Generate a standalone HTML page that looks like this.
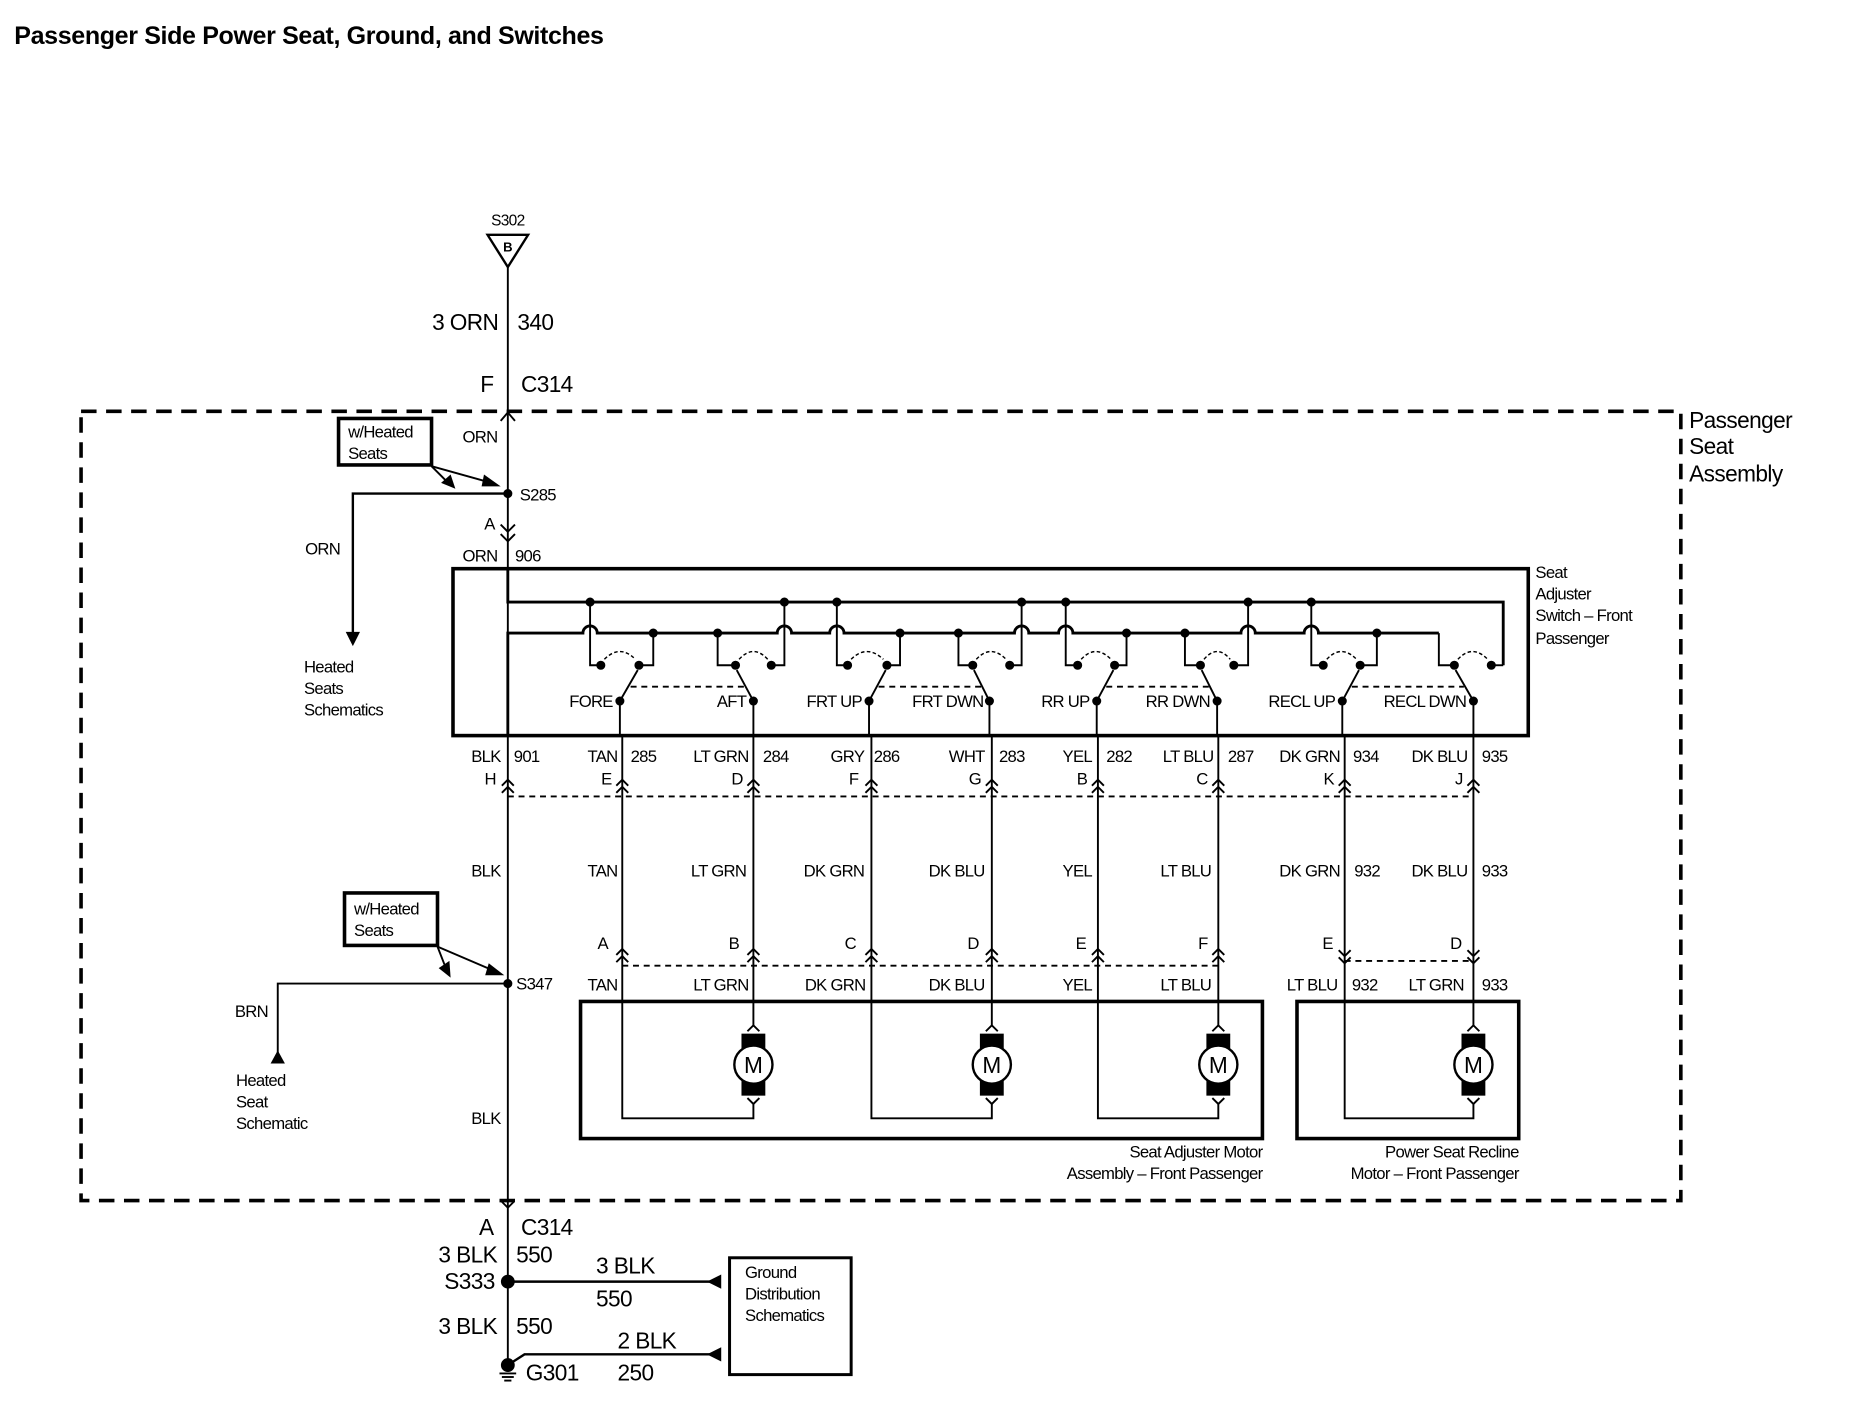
<!DOCTYPE html>
<html><head><meta charset="utf-8"><style>
html,body{margin:0;padding:0;background:#fff;}
svg{display:block;}
text{font-family:"Liberation Sans",Arial,sans-serif;fill:#000;}
.s{font-size:14px;letter-spacing:-0.6px;}
.b{font-size:19px;letter-spacing:-0.5px;}
.r{text-anchor:end;}
</style></head><body>
<svg width="1868" height="1408" viewBox="0 0 1567 1181" preserveAspectRatio="none" xmlns="http://www.w3.org/2000/svg">
<g fill="none" stroke="#000" stroke-width="1.6">
<text x="12" y="37" style="font-size:21px;font-weight:bold;letter-spacing:-0.3px" stroke="none">Passenger Side Power Seat, Ground, and Switches</text>

<!-- S302 -->
<text x="426" y="189" class="s" text-anchor="middle" stroke="none" style="font-size:13px">S302</text>
<polygon points="409,197 443,197 426,224" stroke-width="2"/>
<text x="426" y="211" text-anchor="middle" stroke="none" style="font-size:11px;font-weight:bold">B</text>
<line x1="426" y1="224" x2="426" y2="1145"/>
<text x="418" y="277" class="b r" stroke="none">3 ORN</text>
<text x="434" y="277" class="b" stroke="none">340</text>
<text x="414" y="329" class="b r" stroke="none">F</text>
<text x="437" y="329" class="b" stroke="none">C314</text>
<polyline points="420,353 426,346 432,353"/>

<!-- dashed assembly -->
<rect x="68" y="345" width="1342" height="662" stroke-width="3" stroke-dasharray="13,8"/>
<text x="1417" y="359" class="b" stroke="none">Passenger</text>
<text x="1417" y="381" class="b" stroke="none">Seat</text>
<text x="1417" y="404" class="b" stroke="none">Assembly</text>

<!-- S285 -->
<text x="388" y="371" class="s" stroke="none">ORN</text>
<rect x="284" y="351" width="78" height="39" stroke-width="3"/>
<text x="292" y="367" class="s" stroke="none">w/Heated</text>
<text x="292" y="385" class="s" stroke="none">Seats</text>
<line x1="362" y1="391" x2="412" y2="405"/>
<polygon points="420,408 406,398 404,408" fill="#000" stroke="none"/>
<line x1="362" y1="391" x2="375" y2="404"/>
<polygon points="382,410 370,405 378,398" fill="#000" stroke="none"/>
<circle cx="426" cy="414" r="3" fill="#000"/>
<text x="436" y="420" class="s" stroke="none">S285</text>
<polyline points="426,414 296,414 296,532" stroke-width="2"/>
<polygon points="290,530 302,530 296,542" fill="#000" stroke="none"/>
<text x="256" y="465" class="s" stroke="none">ORN</text>
<text x="255" y="564" class="s" stroke="none">Heated</text>
<text x="255" y="582" class="s" stroke="none">Seats</text>
<text x="255" y="600" class="s" stroke="none">Schematics</text>
<text x="415" y="444" class="s r" stroke="none">A</text>
<polyline points="420,440 426,446 432,440"/>
<polyline points="420,448 426,454 432,448"/>
<text x="388" y="471" class="s" stroke="none">ORN</text>
<text x="432" y="471" class="s" stroke="none">906</text>

<!-- switch box -->
<rect x="380" y="477" width="902" height="140" stroke-width="3"/>
<text x="1288" y="485" class="s" stroke="none">Seat</text>
<text x="1288" y="503" class="s" stroke="none">Adjuster</text>
<text x="1288" y="521" class="s" stroke="none">Switch – Front</text>
<text x="1288" y="540" class="s" stroke="none">Passenger</text>
<polyline points="426,477 426,505 1261,505 1261,558" stroke-width="2.4"/>
<path d="M426 617 V531 H489 a6 6 0 0 1 12 0 H652 a6 6 0 0 1 12 0 H696 a6 6 0 0 1 12 0 H851 a6 6 0 0 1 12 0 H888 a6 6 0 0 1 12 0 H1041 a6 6 0 0 1 12 0 H1094 a6 6 0 0 1 12 0 H1207" stroke-width="2.4"/>
<g fill="#000">
<circle cx="495" cy="505" r="3"/><circle cx="658" cy="505" r="3"/><circle cx="702" cy="505" r="3"/><circle cx="857" cy="505" r="3"/><circle cx="894" cy="505" r="3"/><circle cx="1047" cy="505" r="3"/><circle cx="1100" cy="505" r="3"/>
<circle cx="548" cy="531" r="3"/><circle cx="602" cy="531" r="3"/><circle cx="755" cy="531" r="3"/><circle cx="804" cy="531" r="3"/><circle cx="945" cy="531" r="3"/><circle cx="994" cy="531" r="3"/><circle cx="1155" cy="531" r="3"/>
</g>
<polyline points="495,505 495,558 504,558"/>
<polyline points="548,531 548,558 536,558"/>
<polyline points="602,531 602,558 617,558"/>
<polyline points="658,505 658,558 647,558"/>
<polyline points="702,505 702,558 711,558"/>
<polyline points="755,531 755,558 744,558"/>
<polyline points="804,531 804,558 816,558"/>
<polyline points="857,505 857,558 847,558"/>
<polyline points="894,505 894,558 904,558"/>
<polyline points="945,531 945,558 935,558"/>
<polyline points="994,531 994,558 1007,558"/>
<polyline points="1047,505 1047,558 1035,558"/>
<polyline points="1100,505 1100,558 1110,558"/>
<polyline points="1155,531 1155,558 1141,558"/>
<polyline points="1207,531 1207,558 1220,558"/>
<line x1="1261" y1="558" x2="1251" y2="558"/>
<g fill="#000">
<circle cx="504" cy="558" r="3"/><circle cx="536" cy="558" r="3"/><circle cx="617" cy="558" r="3"/><circle cx="647" cy="558" r="3"/><circle cx="711" cy="558" r="3"/><circle cx="744" cy="558" r="3"/><circle cx="816" cy="558" r="3"/><circle cx="847" cy="558" r="3"/><circle cx="904" cy="558" r="3"/><circle cx="935" cy="558" r="3"/><circle cx="1007" cy="558" r="3"/><circle cx="1035" cy="558" r="3"/><circle cx="1110" cy="558" r="3"/><circle cx="1141" cy="558" r="3"/><circle cx="1220" cy="558" r="3"/><circle cx="1251" cy="558" r="3"/>
<circle cx="520" cy="588" r="3"/><circle cx="632" cy="588" r="3"/><circle cx="729" cy="588" r="3"/><circle cx="830" cy="588" r="3"/><circle cx="920" cy="588" r="3"/><circle cx="1021" cy="588" r="3"/><circle cx="1126" cy="588" r="3"/><circle cx="1236" cy="588" r="3"/>
</g>
<g stroke-dasharray="3,2" stroke-width="1.2">
<path d="M507 553 Q520 540 533 553"/><path d="M620 553 Q632 540 644 553"/><path d="M714 553 Q727 540 741 553"/><path d="M819 553 Q831 540 844 553"/><path d="M907 553 Q919 540 932 553"/><path d="M1010 553 Q1021 540 1032 553"/><path d="M1113 553 Q1125 540 1138 553"/><path d="M1223 553 Q1235 540 1248 553"/>
</g>
<g stroke-dasharray="5,4">
<line x1="529" y1="576" x2="624" y2="576"/><line x1="737" y1="576" x2="823" y2="576"/><line x1="928" y1="576" x2="1014" y2="576"/><line x1="1134" y1="576" x2="1228" y2="576"/>
</g>
<line x1="520" y1="588" x2="535" y2="562"/><line x1="632" y1="588" x2="618" y2="562"/><line x1="729" y1="588" x2="743" y2="562"/><line x1="830" y1="588" x2="817" y2="562"/><line x1="920" y1="588" x2="934" y2="562"/><line x1="1021" y1="588" x2="1008" y2="562"/><line x1="1126" y1="588" x2="1140" y2="562"/><line x1="1236" y1="588" x2="1221" y2="562"/>
<text x="514" y="593" class="s r" stroke="none">FORE</text>
<text x="626" y="593" class="s r" stroke="none">AFT</text>
<text x="723" y="593" class="s r" stroke="none">FRT UP</text>
<text x="825" y="593" class="s r" stroke="none">FRT DWN</text>
<text x="914" y="593" class="s r" stroke="none">RR UP</text>
<text x="1015" y="593" class="s r" stroke="none">RR DWN</text>
<text x="1120" y="593" class="s r" stroke="none">RECL UP</text>
<text x="1230" y="593" class="s r" stroke="none">RECL DWN</text>

<polyline points="520,588 520,617 522,617 522,938 632,938 632,925"/>
<line x1="632" y1="588" x2="632" y2="860"/>
<polyline points="729,588 729,617 731,617 731,938 832,938 832,925"/>
<polyline points="830,588 830,617 832,617 832,860"/>
<polyline points="920,588 920,617 921,617 921,938 1022,938 1022,925"/>
<polyline points="1021,588 1021,617 1022,617 1022,860"/>
<polyline points="1126,588 1126,617 1128,617 1128,938 1236,938 1236,925"/>
<line x1="1236" y1="588" x2="1236" y2="860"/>

<g stroke="none">
<text x="420" y="639" class="s r">BLK</text><text x="431" y="639" class="s">901</text>
<text x="518" y="639" class="s r">TAN</text><text x="529" y="639" class="s">285</text>
<text x="628" y="639" class="s r">LT GRN</text><text x="640" y="639" class="s">284</text>
<text x="725" y="639" class="s r">GRY</text><text x="733" y="639" class="s">286</text>
<text x="826" y="639" class="s r">WHT</text><text x="838" y="639" class="s">283</text>
<text x="916" y="639" class="s r">YEL</text><text x="928" y="639" class="s">282</text>
<text x="1018" y="639" class="s r">LT BLU</text><text x="1030" y="639" class="s">287</text>
<text x="1124" y="639" class="s r">DK GRN</text><text x="1135" y="639" class="s">934</text>
<text x="1231" y="639" class="s r">DK BLU</text><text x="1243" y="639" class="s">935</text>
<text x="416" y="658" class="s r">H</text><text x="513" y="658" class="s r">E</text><text x="623" y="658" class="s r">D</text><text x="720" y="658" class="s r">F</text><text x="823" y="658" class="s r">G</text><text x="912" y="658" class="s r">B</text><text x="1013" y="658" class="s r">C</text><text x="1119" y="658" class="s r">K</text><text x="1227" y="658" class="s r">J</text>
</g>
<g>
<polyline points="421,659 426,654 431,659"/><polyline points="421,665 426,660 431,665"/>
<polyline points="517,659 522,654 527,659"/><polyline points="517,665 522,660 527,665"/>
<polyline points="627,659 632,654 637,659"/><polyline points="627,665 632,660 637,665"/>
<polyline points="726,659 731,654 736,659"/><polyline points="726,665 731,660 736,665"/>
<polyline points="827,659 832,654 837,659"/><polyline points="827,665 832,660 837,665"/>
<polyline points="916,659 921,654 926,659"/><polyline points="916,665 921,660 926,665"/>
<polyline points="1017,659 1022,654 1027,659"/><polyline points="1017,665 1022,660 1027,665"/>
<polyline points="1123,659 1128,654 1133,659"/><polyline points="1123,665 1128,660 1133,665"/>
<polyline points="1231,659 1236,654 1241,659"/><polyline points="1231,665 1236,660 1241,665"/>
</g>
<line x1="426" y1="668" x2="1236" y2="668" stroke-dasharray="5,4"/>

<g stroke="none">
<text x="420" y="735" class="s r">BLK</text>
<text x="518" y="735" class="s r">TAN</text>
<text x="626" y="735" class="s r">LT GRN</text>
<text x="725" y="735" class="s r">DK GRN</text>
<text x="826" y="735" class="s r">DK BLU</text>
<text x="916" y="735" class="s r">YEL</text>
<text x="1016" y="735" class="s r">LT BLU</text>
<text x="1124" y="735" class="s r">DK GRN</text><text x="1136" y="735" class="s">932</text>
<text x="1231" y="735" class="s r">DK BLU</text><text x="1243" y="735" class="s">933</text>
<text x="510" y="796" class="s r">A</text><text x="620" y="796" class="s r">B</text><text x="718" y="796" class="s r">C</text><text x="821" y="796" class="s r">D</text><text x="911" y="796" class="s r">E</text><text x="1013" y="796" class="s r">F</text>
<text x="1118" y="796" class="s r">E</text><text x="1226" y="796" class="s r">D</text>
<text x="518" y="831" class="s r">TAN</text>
<text x="628" y="831" class="s r">LT GRN</text>
<text x="726" y="831" class="s r">DK GRN</text>
<text x="826" y="831" class="s r">DK BLU</text>
<text x="916" y="831" class="s r">YEL</text>
<text x="1016" y="831" class="s r">LT BLU</text>
<text x="1122" y="831" class="s r">LT BLU</text><text x="1134" y="831" class="s">932</text>
<text x="1228" y="831" class="s r">LT GRN</text><text x="1243" y="831" class="s">933</text>
</g>
<g>
<polyline points="517,801 522,796 527,801"/><polyline points="517,807 522,802 527,807"/>
<polyline points="627,801 632,796 637,801"/><polyline points="627,807 632,802 637,807"/>
<polyline points="726,801 731,796 736,801"/><polyline points="726,807 731,802 736,807"/>
<polyline points="827,801 832,796 837,801"/><polyline points="827,807 832,802 837,807"/>
<polyline points="916,801 921,796 926,801"/><polyline points="916,807 921,802 926,807"/>
<polyline points="1017,801 1022,796 1027,801"/><polyline points="1017,807 1022,802 1027,807"/>
<polyline points="1123,797 1128,802 1133,797"/><polyline points="1123,803 1128,808 1133,803"/>
<polyline points="1231,797 1236,802 1241,797"/><polyline points="1231,803 1236,808 1241,803"/>
</g>
<line x1="522" y1="810" x2="1022" y2="810" stroke-dasharray="5,4"/>
<line x1="1128" y1="806" x2="1236" y2="806" stroke-dasharray="5,4"/>

<rect x="487" y="840" width="572" height="115" stroke-width="3"/>
<rect x="1088" y="840" width="186" height="115" stroke-width="3"/>
<g stroke="none">
<text x="1059" y="971" class="s r">Seat Adjuster Motor</text>
<text x="1059" y="989" class="s r">Assembly – Front Passenger</text>
<text x="1274" y="971" class="s r">Power Seat Recline</text>
<text x="1274" y="989" class="s r">Motor – Front Passenger</text>
</g>
<g id="m">
<polyline points="627,865 632,860 637,865"/>
<polyline points="627,921 632,926 637,921"/>
<rect x="622" y="867" width="20" height="52" fill="#000" stroke="none"/>
<circle cx="632" cy="893" r="16" fill="#fff" stroke-width="2"/>
<text x="632" y="900" text-anchor="middle" stroke="none" style="font-size:19px">M</text>
</g>
<use href="#m" x="200"/>
<use href="#m" x="390"/>
<use href="#m" x="604"/>

<rect x="289" y="749" width="78" height="44" stroke-width="3"/>
<text x="297" y="767" class="s" stroke="none">w/Heated</text>
<text x="297" y="785" class="s" stroke="none">Seats</text>
<line x1="367" y1="794" x2="416" y2="815"/>
<polygon points="423,818 410,808 407,818" fill="#000" stroke="none"/>
<line x1="367" y1="794" x2="374" y2="812"/>
<polygon points="378,820 368,812 377,806" fill="#000" stroke="none"/>
<circle cx="426" cy="825" r="3" fill="#000"/>
<text x="433" y="830" class="s" stroke="none">S347</text>
<polyline points="426,825 233,825 233,884"/>
<polygon points="227,892 239,892 233,881" fill="#000" stroke="none"/>
<g stroke="none">
<text x="197" y="853" class="s">BRN</text>
<text x="198" y="911" class="s">Heated</text>
<text x="198" y="929" class="s">Seat</text>
<text x="198" y="947" class="s">Schematic</text>
<text x="420" y="943" class="s r">BLK</text>
</g>

<polyline points="421,1008 426,1013 431,1008"/>
<g stroke="none">
<text x="414" y="1036" class="b r">A</text><text x="437" y="1036" class="b">C314</text>
<text x="417" y="1059" class="b r">3 BLK</text><text x="433" y="1059" class="b">550</text>
<text x="415" y="1081" class="b r">S333</text>
<text x="500" y="1068" class="b">3 BLK</text><text x="500" y="1096" class="b">550</text>
<text x="417" y="1119" class="b r">3 BLK</text><text x="433" y="1119" class="b">550</text>
<text x="518" y="1131" class="b">2 BLK</text><text x="518" y="1158" class="b">250</text>
<text x="441" y="1158" class="b">G301</text>
</g>
<circle cx="426" cy="1075" r="5" fill="#000"/>
<line x1="426" y1="1075" x2="600" y2="1075" stroke-width="2"/>
<polygon points="593,1075 605,1069 605,1081" fill="#000" stroke="none"/>
<circle cx="426" cy="1145" r="5" fill="#000"/>
<path d="M429 1143 L440 1136 H600" stroke-width="2"/>
<polygon points="593,1136 605,1130 605,1142" fill="#000" stroke="none"/>
<line x1="419" y1="1152" x2="433" y2="1152"/>
<line x1="421" y1="1155" x2="431" y2="1155"/>
<line x1="423" y1="1158" x2="429" y2="1158"/>
<rect x="612" y="1055" width="102" height="98" stroke-width="2.5"/>
<g stroke="none">
<text x="625" y="1072" class="s">Ground</text>
<text x="625" y="1090" class="s">Distribution</text>
<text x="625" y="1108" class="s">Schematics</text>
</g>
</g>
</svg>
</body></html>
